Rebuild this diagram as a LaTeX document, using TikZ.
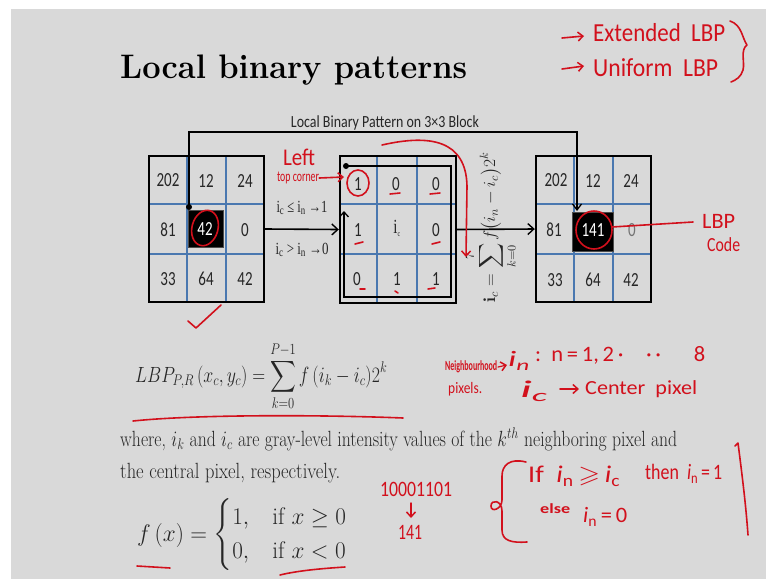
\RequirePackage{fix-cm}
\documentclass[tikz,border=0pt]{standalone}
\usepackage{amsmath,amssymb}
\usepackage{fontspec}
\usepackage{graphicx}
\usetikzlibrary{arrows.meta,calc}
\newfontfamily\calfont{Carlito}
\newfontfamily\serfont{Liberation Serif}
\newfontfamily\handfont{Carlito}
\definecolor{slidebg}{HTML}{D9D9D9}
\definecolor{gridblue}{HTML}{4A78B0}
\definecolor{penred}{HTML}{D2101C}
\newcommand{\fitw}[2]{\resizebox{#1pt}{\height}{#2}}
\newcommand{\cn}[1]{\scalebox{0.75}[1]{#1}}
\begin{document}
\begin{tikzpicture}[x=1pt,y=-1pt,
  gridbox/.style={draw=black, line width=2.4pt, inner sep=0pt, minimum width=115pt, minimum height=146pt},
  blackcell/.style={fill=black, draw=black!70, line width=0.6pt, inner sep=0pt},
  blueline/.style={draw=gridblue, line width=1.2pt},
  cellnum/.style={inner sep=0pt, font=\calfont\fontsize{20}{20}\selectfont, text=black!85},
  wire/.style={draw=black, line width=1.6pt},
  wirearrow/.style={wire, -{Straight Barb[length=6pt,width=11pt,line width=1.4pt]}},
  pen/.style={draw=penred, line width=1.6pt, line cap=round, line join=round},
  penarrow/.style={pen, -{Straight Barb[length=5pt,width=9pt,line width=1.5pt]}},
  pentext/.style={inner sep=0pt, text=penred, font=\handfont},
  plain/.style={inner sep=0pt}]
\useasboundingbox (0,0) rectangle (766,579);
\fill[white] (0,0) rectangle (766,579);
\fill[slidebg] (11,9) rectangle (766,579);

% title
\node[plain, anchor=base west] (title) at (120,78)
  {\fitw{347}{\fontsize{34}{40}\selectfont\bfseries Local binary patterns}};

% ---------------- left grid
\draw[blueline] (187,156) -- (187,302);
\draw[blueline] (226,156) -- (226,302);
\draw[blueline] (149,204) -- (264,204);
\draw[blueline] (149,254) -- (264,254);
\node[blackcell, minimum width=35pt, minimum height=37pt] (Lc) at (205.5,228.5) {};
\node[gridbox] (Lbox) at (206.5,229) {};
\node[cellnum] (L11) at (168,180) {\cn{202}};
\node[cellnum] (L12) at (206,181) {\cn{12}};
\node[cellnum] (L13) at (245,181) {\cn{24}};
\node[cellnum] (L21) at (168,230) {\cn{81}};
\node[cellnum, text=white] (L22) at (205,229) {\cn{42}};
\node[cellnum] (L23) at (245,230) {\cn{0}};
\node[cellnum] (L31) at (168,279) {\cn{33}};
\node[cellnum] (L32) at (206,279) {\cn{64}};
\node[cellnum] (L33) at (245,279) {\cn{42}};

% ---------------- middle grid
\draw[blueline] (377,156) -- (377,303);
\draw[blueline] (417,156) -- (417,303);
\draw[blueline] (340,204) -- (456,204);
\draw[blueline] (340,254) -- (456,254);
\node[gridbox, minimum width=116pt, minimum height=147pt] (Mbox) at (398,229.5) {};
\coordinate (Mdot) at (346,166);
\coordinate (Mtr) at (451,166);
\coordinate (Mbr) at (451,297);
\coordinate (Mbl) at (344,297);
\coordinate (Mup) at (344,211);
\draw[wire, line width=1.5pt, -{Straight Barb[length=5pt,width=9pt,line width=1.3pt]}]
  (Mdot) -- (Mtr) -- (Mbr) -- (Mbl) -- (Mup);
\fill (Mdot) circle (3pt);
\node[cellnum] (M11) at (358,184) {\cn{1}};
\node[cellnum] (M12) at (396,184) {\cn{0}};
\node[cellnum] (M13) at (436,184) {\cn{0}};
\node[cellnum] (M21) at (358,230) {\cn{1}};
\node[plain, font=\serfont\fontsize{20}{20}\selectfont, text=black!85] (M22) at (397,228) {\cn{i\textsubscript{\fontsize{8}{8}\selectfont c}}};
\node[cellnum] (M23) at (436,230) {\cn{0}};
\node[cellnum] (M31) at (357,279) {\cn{0}};
\node[cellnum] (M32) at (397,279) {\cn{1}};
\node[cellnum] (M33) at (436,279) {\cn{1}};

% ---------------- right grid
\draw[blueline] (574,156) -- (574,302);
\draw[blueline] (613,156) -- (613,302);
\draw[blueline] (536,204) -- (651,204);
\draw[blueline] (536,254) -- (651,254);
\node[blackcell, minimum width=41pt, minimum height=39pt] (Rc) at (592.5,231.5) {};
\node[gridbox] (Rbox) at (593.5,229) {};
\node[cellnum] (R11) at (556,180) {\cn{202}};
\node[cellnum] (R12) at (593,181) {\cn{12}};
\node[cellnum] (R13) at (631,181) {\cn{24}};
\node[cellnum] (R21) at (554,230) {\cn{81}};
\node[cellnum, text=white] (R22) at (593,230) {\cn{141}};
\node[cellnum, text=black!55] (R23) at (632,230) {\cn{0}};
\node[cellnum] (R31) at (555,280) {\cn{33}};
\node[cellnum] (R32) at (593,280) {\cn{64}};
\node[cellnum] (R33) at (631,280) {\cn{42}};

% ---------------- connectors
\coordinate (Ldot) at (189,207);
\coordinate (Ltop) at (189,132);
\coordinate (Rtop) at (577,132);
\coordinate (Rtip) at (577,211);
\draw[wire, -{Straight Barb[length=6pt,width=9pt,line width=1.3pt]}] (Ldot) -- (Ltop) -- (Rtop) -- (Rtip);
\fill (Ldot) circle (3pt);
\node[plain, font=\calfont\fontsize{17}{17}\selectfont, text=black!85] (blocktitle) at (385,123)
  {\fitw{188}{Local Binary Pattern on 3×3 Block}};
\draw[wirearrow] (Lbox.east) -- (Mbox.west);
\draw[wirearrow] (Mbox.east) -- (Rbox.west);
\node[plain, font=\serfont\fontsize{17}{17}\selectfont, text=black!85] (rule1) at (302,208)
  {\fitw{51}{i\textsubscript{c} ≤ i\textsubscript{n} →1}};
\node[plain, font=\serfont\fontsize{17}{17}\selectfont, text=black!85] (rule0) at (302,250)
  {\fitw{53}{i\textsubscript{c} > i\textsubscript{n} →0}};
\node[plain, rotate=90, text=black!85] (sumf) at (491,227)
  {\fitw{150}{\fontsize{17}{20}\selectfont $\displaystyle\mathbf{i}_c=\sum_{k=0}^{7} f\bigl(i_n-i_c\bigr)2^k$}};

% ---------------- formulas and text
\node[plain, anchor=base west, text=black!85] (lbp) at (135,382)
  {\fitw{252}{\fontsize{22}{26}\selectfont $\displaystyle LBP_{P,R}\,(x_c,y_c)=\sum_{k=0}^{P-1} f\,(i_k-i_c)2^k$}};
\node[plain, anchor=base west, text=black!85] (where1) at (120,446)
  {\fitw{557}{\fontsize{22}{26}\selectfont where, $i_k$ and $i_c$ are gray-level intensity values of the $k^{th}$ neighboring pixel and}};
\node[plain, anchor=base west, text=black!85] (where2) at (120,478)
  {\fitw{220}{\fontsize{22}{26}\selectfont the central pixel, respectively.}};
\node[plain, anchor=base west, text=black!85] (fx) at (137,541)
  {\fitw{210}{\fontsize{24}{28}\selectfont $f\,(x)=\begin{cases}1, & \text{if } x\geq 0\\ 0, & \text{if } x<0\end{cases}$}};

% ---------------- red annotations
\coordinate (ea1) at (562,38); \coordinate (ea2) at (584,36);
\draw[penarrow] (ea1) -- (ea2);
\node[pentext, anchor=west] (ext) at (593,33) {\fitw{132}{\fontsize{26}{26}\selectfont Extended\ \ LBP}};
\coordinate (ua1) at (562,69); \coordinate (ua2) at (584,66);
\draw[penarrow] (ua1) -- (ua2);
\node[pentext, anchor=west] (uni) at (593,68) {\fitw{125}{\fontsize{26}{26}\selectfont Uniform\ \ LBP}};
\draw[pen] (730,21) .. controls (742,25) and (742,38) .. (747,45) .. controls (740,50) and (745,62) .. (743,70) .. controls (741,77) and (736,80) .. (731,82);

\node[pentext] (leftw) at (299,157) {\fitw{32}{\fontsize{24}{24}\selectfont Left}};
\node[pentext] (topc) at (298,178) {\fitw{42}{\fontsize{15}{15}\selectfont top corner}};
\coordinate (c1w) at (344,177);
\draw[penarrow] (topc.east) -- (c1w);
\draw[pen] (358,183) ellipse [x radius=11, y radius=13];
\draw[pen, rotate around={-15:(205,228)}] (205,228) ellipse [x radius=13, y radius=18];
\draw[pen] (594,230) ellipse [x radius=18, y radius=19];
\coordinate (cl1) at (612,227); \coordinate (cl2) at (693,222);
\draw[pen] (cl1) -- (cl2);
\node[pentext, anchor=west] (lbpw) at (702,221) {\fitw{33}{\fontsize{22}{22}\selectfont LBP}};
\node[pentext, anchor=west] (codew) at (707,245) {\fitw{33}{\fontsize{20}{20}\selectfont Code}};

% underlines in middle grid
\draw[pen] (390,194) -- (400,193);
\draw[pen] (430,194) -- (440,193);
\draw[pen] (355,244) -- (363,242);
\draw[pen] (432,244) -- (440,242);
\draw[pen] (360,289) -- (365,289);
\draw[pen] (395,291) -- (398,293);
\draw[pen] (428,289) -- (435,288);

% curved arrow over middle grid
\coordinate (ca1) at (382,145); \coordinate (ca2) at (467,186); \coordinate (ca3) at (466,257);
\draw[penarrow] (ca1) .. controls (430,134) and (466,140) .. (ca2) -- (ca3);

% check mark
\draw[pen] (188,321) -- (196,328) -- (221,305);

% LBP underline
\draw[pen] (133,421) .. controls (200,414) and (330,415) .. (403,418);

% neighbourhood notes
\node[pentext, anchor=west] (nbh) at (445,367) {\fitw{52}{\fontsize{14}{14}\selectfont\bfseries Neighbourhood}};
\coordinate (na1) at (498,367); \coordinate (na2) at (507,365);
\draw[penarrow, line width=1.2pt] (na1) -- (na2);
\node[pentext] (inw) at (519,361) {\fitw{22}{\fontsize{22}{22}\selectfont\itshape i\textsubscript{n}}};
\node[pentext, anchor=west] (nrange) at (535,355) {\fitw{170}{\fontsize{22}{22}\selectfont :\ \ n\,=\,1,\,2\,·\quad ·\,·\quad\ \ 8}};
\node[pentext, anchor=west] (pix) at (448,389) {\fitw{34}{\fontsize{16}{16}\selectfont pixels.}};
\node[pentext] (icw) at (534,391) {\fitw{28}{\fontsize{24}{24}\selectfont\itshape i\textsubscript{c}}};
\coordinate (pa1) at (560,389); \coordinate (pa2) at (579,389);
\draw[penarrow] (pa1) -- (pa2);
\node[pentext, anchor=west] (cpix) at (585,389) {\fitw{112}{\fontsize{20}{20}\selectfont Center\ \ pixel}};

% binary -> decimal
\node[pentext] (bin) at (416,489) {\fitw{72}{\fontsize{22}{22}\selectfont 10001101}};
\coordinate (da1) at (411,503); \coordinate (da2) at (411,518);
\draw[penarrow, line width=1.4pt] (da1) -- (da2);
\node[pentext] (dec) at (410,532) {\fitw{24}{\fontsize{22}{22}\selectfont 141}};

% rule brace
\draw[pen] (526,462) .. controls (510,458) and (502,465) .. (502,476) -- (502,500)
  .. controls (502,509) and (491,513) .. (491,506) .. controls (491,499) and (502,500) .. (502,511)
  -- (502,530) .. controls (502,541) and (512,543) .. (527,542);
\node[pentext, anchor=west] (ifw) at (528,476) {\fitw{92}{\fontsize{24}{24}\selectfont If\ \ \textit{i}\textsubscript{n}\,$\geqslant$\,\textit{i}\textsubscript{c}}};
\node[pentext, anchor=west] (thenw) at (645,474) {\fitw{77}{\fontsize{22}{22}\selectfont then\ \ \textit{i}\textsubscript{n}\,=\,1}};
\node[pentext, anchor=west] (elsew) at (540,509) {\fitw{30}{\fontsize{14}{14}\selectfont\bfseries else}};
\node[pentext, anchor=west] (in0) at (583,517) {\fitw{44}{\fontsize{22}{22}\selectfont\textit{i}\textsubscript{n}\,=\,0}};
\draw[pen] (735,446) -- (738,443) .. controls (743,482) and (746,507) .. (748,535);

% underlines of f(x)
\draw[pen] (137,566) -- (170,568);
\draw[pen] (280,575) .. controls (300,570) and (330,568) .. (345,567);
\end{tikzpicture}
\end{document}
